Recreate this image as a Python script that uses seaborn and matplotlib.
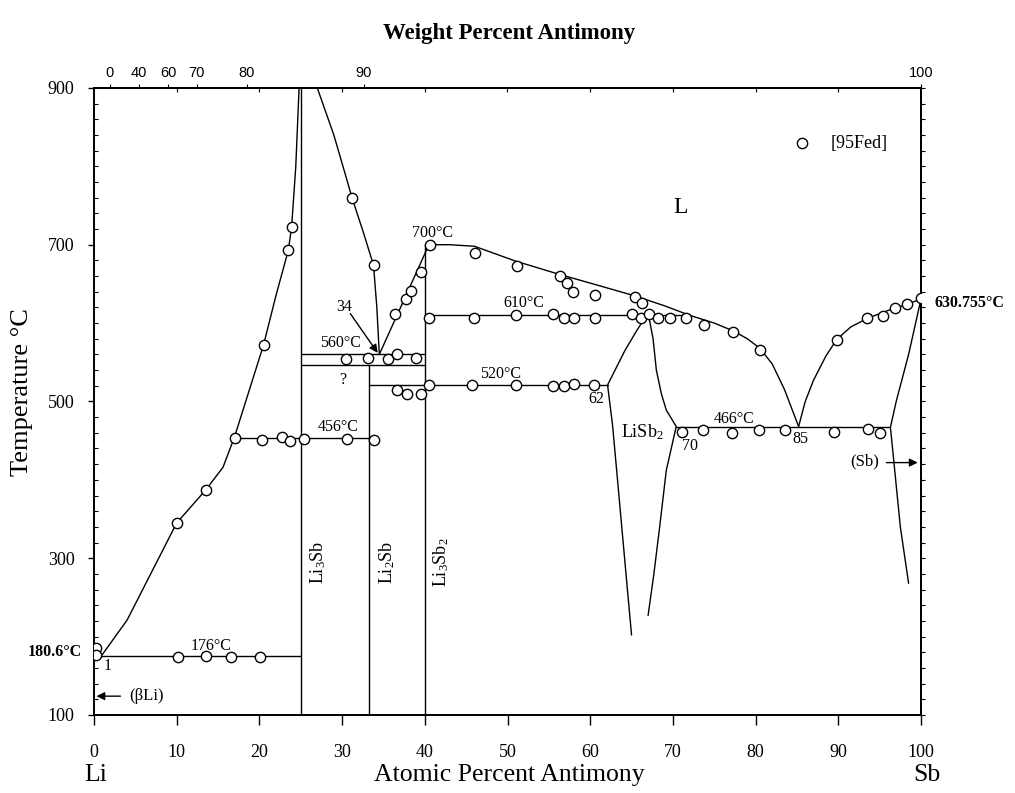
import matplotlib
matplotlib.use("Agg")
import matplotlib.pyplot as plt
from matplotlib.ticker import MultipleLocator, FixedLocator
import seaborn as sns
import pandas as pd

# ---------------- data (atomic % Sb, temperature in °C) ----------------
# experimental points [95Fed]
pts_x = [0.3, 0.3, 10.2, 13.6, 16.6, 20.1,
         10.0, 13.5, 20.5, 23.5, 23.9,
         17.05, 20.3, 22.7, 23.7, 25.4, 30.6, 33.8,
         31.2, 33.8,
         30.5, 33.1, 35.6, 36.6, 38.9,
         36.4, 37.7, 38.3, 39.6, 40.6,
         36.6, 37.9, 39.6,
         40.5, 45.7, 51.0, 55.5, 56.8, 58.0, 60.4,
         46.1, 51.1, 56.3, 57.2, 57.9, 60.6, 65.4, 66.3,
         40.5, 45.9, 51.0, 55.5, 56.8, 58.0, 60.6, 65.0, 66.1, 67.1, 68.2, 69.6, 71.6,
         73.8, 77.3, 80.5,
         71.1, 73.6, 77.1, 80.4, 83.6, 89.5, 93.6, 95.0,
         89.8, 93.5, 95.4, 96.9, 98.3, 100.0]
pts_t = [186, 176, 174, 175, 174, 174,
         345, 387, 572, 693, 723,
         453, 451, 455, 450, 452, 452, 451,
         760, 674,
         554, 555, 554, 560, 555,
         612, 631, 641, 665, 699,
         515, 510, 510,
         521, 521, 521, 520, 520, 522, 521,
         689, 673, 660, 651, 640, 636, 633, 626,
         606, 606, 610, 612, 607, 607, 606, 611, 607, 612, 607, 607, 607,
         598, 588, 566,
         461, 463, 460, 464, 463, 461, 465, 460,
         579, 607, 609, 619, 624, 631.5]

# liquidus / solvus curves
liq_li_x = [1.0, 4.0, 10.0, 13.5, 15.6, 17.0, 20.5, 22.0, 23.5, 23.9, 24.4, 24.8]
liq_li_t = [177, 221, 345, 387, 416, 455, 572, 635, 693, 723, 800, 900]
liq_a_x = [27.0, 29.0, 30.6, 31.2, 32.5, 33.8, 34.2, 34.5]
liq_a_t = [900, 840, 782, 760, 718, 674, 620, 560]
liq_b_x = [34.5, 40.5]
liq_b_t = [560, 700]
liq_c_x = [40.5, 43.0, 46.0, 51.0, 56.0, 61.0, 65.3, 69.0, 72.0, 75.0, 77.3, 79.0, 80.5, 82.0, 83.5, 85.2]
liq_c_t = [700, 700, 698, 679, 663, 648, 635, 622, 610, 600, 590, 580, 568, 548, 515, 468]
liq_sb_x = [85.2, 86.0, 87.0, 88.5, 89.8, 91.5, 93.5, 96.0, 98.3, 100.0]
liq_sb_t = [468, 500, 527, 558, 579, 595, 606, 616, 624, 630.755]
solv_sb_x = [100.0, 98.5, 97.0, 96.3, 96.7, 97.5, 98.5]
solv_sb_t = [630.755, 560, 500, 467, 425, 340, 268]
lisb2_l_x = [67.0, 65.6, 64.2, 62.1, 62.7, 63.2, 63.9, 64.5, 65.0]
lisb2_l_t = [613, 590, 565, 521, 470, 412, 330, 260, 202]
lisb2_r_x = [67.0, 67.6, 68.0, 68.6, 69.2, 70.4, 69.8, 69.2, 68.4, 67.7, 67.0]
lisb2_r_t = [613, 580, 540, 510, 489, 468, 440, 412, 340, 280, 227]

# invariant (horizontal) lines: x-start, x-end, temperature
iso_x0 = [0.0, 17.0, 25.0, 25.0, 33.3, 40.0, 70.4]
iso_x1 = [25.0, 33.3, 40.0, 40.0, 62.1, 71.8, 96.3]
iso_t = [175, 454, 561, 546, 521, 610, 467]

# compound (vertical) lines
comp_x = [25.0, 33.3, 40.0]
comp_t0 = [100, 100, 100]
comp_t1 = [900, 546, 700]
comp_lbl = ["Li$_3$Sb", "Li$_2$Sb", "Li$_3$Sb$_2$"]
comp_lbl_x = [27.1, 35.4, 42.0]

# melting points of the pure elements
tm_li = 180.6
tm_sb = 630.755

# axes tick values
x_ticks = [0, 10, 20, 30, 40, 50, 60, 70, 80, 90, 100]
y_ticks = [100, 300, 500, 700, 900]
wt_labels = ["0", "40", "60", "70", "80", "90", "100"]
wt_pos_at = [1.9, 5.4, 9.0, 12.4, 18.5, 32.6, 100.0]

# ---------------- style ----------------
sns.set_theme(style="ticks")
plt.rcParams["font.family"] = ["Liberation Serif", "DejaVu Serif"]
plt.rcParams["mathtext.default"] = "regular"
plt.rcParams["axes.linewidth"] = 1.4
for key in ["text.color", "axes.labelcolor", "xtick.color", "ytick.color",
            "axes.edgecolor"]:
    plt.rcParams[key] = "black"

fig = plt.figure(figsize=(10.15, 7.93), dpi=100)
ax = fig.add_axes([0.0926, 0.0984, 0.8148, 0.7907])
ax.set_xlim(0, 100)
ax.set_ylim(100, 900)

LW = 1.0
K = "black"

def curve(xs, ts):
    df = pd.DataFrame({"x": xs, "t": ts})
    sns.lineplot(data=df, x="x", y="t", ax=ax, sort=False, estimator=None,
                 color=K, linewidth=LW, zorder=2)

for xs, ts in [(liq_li_x, liq_li_t), (liq_a_x, liq_a_t), (liq_b_x, liq_b_t),
               (liq_c_x, liq_c_t), (liq_sb_x, liq_sb_t), (solv_sb_x, solv_sb_t),
               (lisb2_l_x, lisb2_l_t), (lisb2_r_x, lisb2_r_t)]:
    curve(xs, ts)

for x0, x1, t in zip(iso_x0, iso_x1, iso_t):
    curve([x0, x1], [t, t])
for x, t0, t1 in zip(comp_x, comp_t0, comp_t1):
    curve([x, x], [t0, t1])

sns.scatterplot(x=pts_x, y=pts_t, ax=ax, marker="o", s=55, facecolor="white",
                edgecolor=K, linewidth=1.0, zorder=4, label="[95Fed]")

leg = ax.legend(loc="center left", bbox_to_anchor=(0.825, 0.912), frameon=False,
                fontsize=13, handletextpad=0.6, borderaxespad=0)

# ---------------- annotations ----------------
fs = 11.5
ax.text(40.9, 715, "700°C", ha="center", va="center", fontsize=fs)
ax.text(52.0, 625, "610°C", ha="center", va="center", fontsize=fs)
ax.text(29.8, 575, "560°C", ha="center", va="center", fontsize=fs)
ax.text(49.2, 535, "520°C", ha="center", va="center", fontsize=fs)
ax.text(29.5, 467, "456°C", ha="center", va="center", fontsize=fs)
ax.text(77.4, 477, "466°C", ha="center", va="center", fontsize=fs)
ax.text(14.2, 188, "176°C", ha="center", va="center", fontsize=fs)
ax.text(30.3, 621, "34", ha="center", va="center", fontsize=fs)
ax.text(30.1, 527, "?", ha="center", va="center", fontsize=fs)
ax.text(1.6, 162, "1", ha="center", va="center", fontsize=fs)
ax.text(60.7, 503, "62", ha="center", va="center", fontsize=fs)
ax.text(72.1, 443, "70", ha="center", va="center", fontsize=fs)
ax.text(85.4, 452, "85", ha="center", va="center", fontsize=fs)
ax.text(66.3, 461, "LiSb$_2$", ha="center", va="center", fontsize=13)
ax.text(93.2, 423, "(Sb)", ha="center", va="center", fontsize=12)
ax.text(6.4, 124, "(βLi)", ha="center", va="center", fontsize=12)
ax.text(70.9, 748, "L", ha="center", va="center", fontsize=17)

arrow = dict(arrowstyle="-|>", color=K, lw=1.0, mutation_scale=12,
             shrinkA=0, shrinkB=0)
ax.annotate("", xy=(34.3, 562), xytext=(31.0, 612), arrowprops=arrow)
ax.annotate("", xy=(0.3, 124), xytext=(3.2, 124), arrowprops=arrow)
ax.annotate("", xy=(99.6, 422), xytext=(95.8, 422), arrowprops=arrow)

for lbl, x in zip(comp_lbl, comp_lbl_x):
    ax.text(x, 295, lbl, rotation=90, ha="center", va="center", fontsize=13)

ax.text(-1.5, tm_li, "180.6°C", ha="right", va="center", fontsize=11.5,
        fontweight="bold", clip_on=False)
ax.text(1.8, tm_sb, "630.755°C", ha="left", va="center", fontsize=11.5,
        fontweight="bold", clip_on=False,
        transform=ax.get_yaxis_transform()) if False else None
ax.annotate("630.755°C", xy=(100, tm_sb), xytext=(10, -3),
            textcoords="offset points", ha="left", va="center",
            fontsize=11.5, fontweight="bold", annotation_clip=False)

# ---------------- axes ----------------
ax.xaxis.set_major_locator(FixedLocator(x_ticks))
ax.set_xticklabels([str(v) for v in x_ticks], fontsize=13)
ax.tick_params(axis="x", which="major", direction="out", length=7, width=1,
               pad=14, top=False, colors=K)
ax.yaxis.set_major_locator(FixedLocator(y_ticks))
ax.set_yticklabels([str(v) for v in y_ticks], fontsize=13)
ax.yaxis.set_minor_locator(MultipleLocator(20))
ax.tick_params(axis="y", which="major", direction="out", length=4, width=1,
               pad=10, right=False, colors=K)
ax.tick_params(axis="y", which="minor", direction="in", length=3, width=0.8,
               left=True, right=False)
ax.set_xlabel("")
ax.set_ylabel("")

sec_r = ax.secondary_yaxis("right")
sec_r.yaxis.set_major_locator(MultipleLocator(20))
sec_r.tick_params(direction="out", length=3, width=0.8, labelright=False)

sec_t = ax.secondary_xaxis("top")
sec_t.xaxis.set_major_locator(FixedLocator(wt_pos_at))
sec_t.set_xticklabels(wt_labels, fontsize=10.5, family="Liberation Sans")
sec_t.xaxis.set_minor_locator(FixedLocator(x_ticks[1:-1]))
sec_t.tick_params(which="major", direction="out", length=3, width=0.8, pad=3)
sec_t.tick_params(which="minor", direction="in", length=3, width=0.8)

for s in ax.spines.values():
    s.set_color(K)
    s.set_linewidth(1.4)

fig.text(0.5015, 0.958, "Weight Percent Antimony", ha="center", va="center",
         fontsize=16.5, fontweight="bold")
fig.text(0.5015, 0.023, "Atomic Percent Antimony", ha="center", va="center",
         fontsize=18.5)
fig.text(0.0946, 0.023, "Li", ha="center", va="center", fontsize=18.5)
fig.text(0.913, 0.023, "Sb", ha="center", va="center", fontsize=18.5)
fig.text(0.022, 0.505, "Temperature °C", ha="center", va="center",
         rotation=90, fontsize=19)

fig.savefig("out.png", dpi=100, facecolor="white")
